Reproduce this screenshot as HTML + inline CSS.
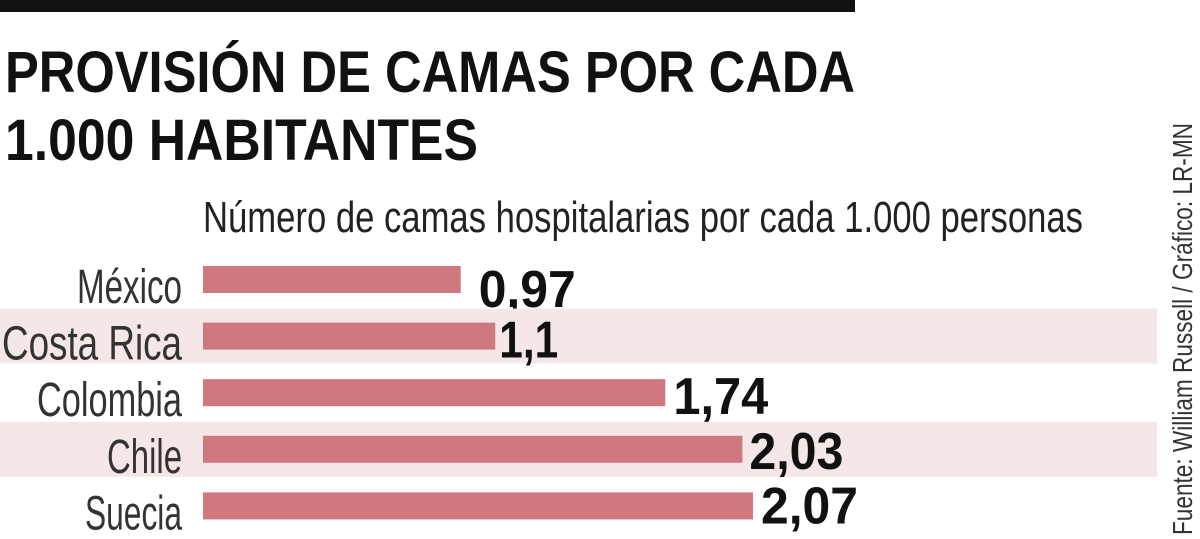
<!DOCTYPE html>
<html><head><meta charset="utf-8"><style>
html,body{margin:0;padding:0;background:#fff;width:1200px;height:539px;overflow:hidden}
svg{display:block;font-family:"Liberation Sans",sans-serif}
</style></head><body>
<svg id="chart" width="1200" height="539" viewBox="0 0 1200 539">
  <rect x="0" y="0" width="855" height="12" fill="#111"/>
  <text x="5" y="92" font-size="58" font-weight="bold" fill="#111" textLength="850" lengthAdjust="spacingAndGlyphs">PROVISIÓN DE CAMAS POR CADA</text>
  <text x="5" y="160" font-size="58" font-weight="bold" fill="#111" textLength="473" lengthAdjust="spacingAndGlyphs">1.000 HABITANTES</text>
  <text x="203" y="232" font-size="44" fill="#222" textLength="880" lengthAdjust="spacingAndGlyphs">Número de camas hospitalarias por cada 1.000 personas</text>
  <g id="rows"></g>
  <text transform="translate(1192,535) rotate(-90)" font-size="28" fill="#333" textLength="412" lengthAdjust="spacingAndGlyphs">Fuente: William Russell / Gráfico: LR-MN</text>
</svg>
<script>
const categories = ["México","Costa Rica","Colombia","Chile","Suecia"];
const values = [0.97, 1.1, 1.74, 2.03, 2.07];
const valueLabels = ["0,97","1,1","1,74","2,03","2,07"];

const labelWidths = [105,180,145,75,97];
const valueWidths = [97,59,95,94,97];
const valueGaps = [18,4,8,7,8];
const valueBaselines = [41,35,35,33,31];
const x0 = 203, pxPerUnit = 265.7;
const xScale = v => x0 + v * pxPerUnit;
const rowTop = i => 266 + i * 56.6;
const ns = "http://www.w3.org/2000/svg";
const g = document.getElementById("rows");
categories.forEach((c, i) => {
  const y = rowTop(i);
  if (i % 2 === 1) {
    const s = document.createElementNS(ns, "rect");
    s.setAttribute("x", 0); s.setAttribute("y", y - 14);
    s.setAttribute("width", 1157); s.setAttribute("height", 55);
    s.setAttribute("fill", "#f5e6e7");
    
    
    g.appendChild(s);
  }
  const b = document.createElementNS(ns, "rect");
  b.setAttribute("x", x0); b.setAttribute("y", y);
  b.setAttribute("width", xScale(values[i]) - x0); b.setAttribute("height", 27);
  b.setAttribute("fill", "#d07880");
  
  
  g.appendChild(b);
  const l = document.createElementNS(ns, "text");
  l.setAttribute("x", 182 - labelWidths[i]); l.setAttribute("y", y + 37);
  l.setAttribute("font-size", "48"); l.setAttribute("fill", "#333");
  l.setAttribute("textLength", labelWidths[i]); l.setAttribute("lengthAdjust", "spacingAndGlyphs");
  l.textContent = c;
  
  
  g.appendChild(l);
  const v = document.createElementNS(ns, "text");
  v.setAttribute("x", xScale(values[i]) + valueGaps[i]); v.setAttribute("y", y + valueBaselines[i]);
  v.setAttribute("font-size", "52"); v.setAttribute("font-weight", "bold"); v.setAttribute("fill", "#111");
  v.setAttribute("textLength", valueWidths[i]); v.setAttribute("lengthAdjust", "spacingAndGlyphs");
  v.textContent = valueLabels[i];
  
  
  g.appendChild(v);
});
</script>
</body></html>
